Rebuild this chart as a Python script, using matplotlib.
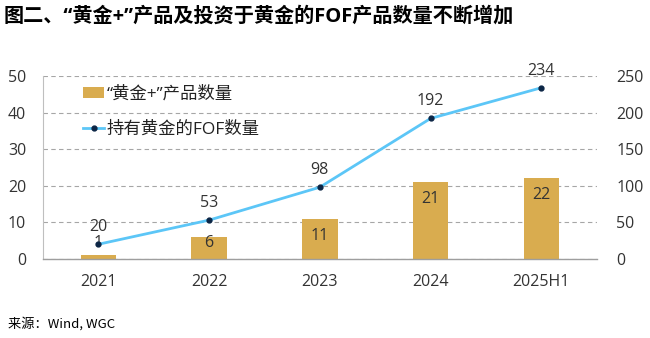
import matplotlib
matplotlib.use('Agg')
import matplotlib.pyplot as plt

plt.rcParams['font.family'] = ['Open Sans', 'Noto Sans CJK SC', 'DejaVu Sans']

# Data
categories = ['2021', '2022', '2023', '2024', '2025H1']
gold_plus_counts = [1, 6, 11, 21, 22]
fof_counts = [20, 53, 98, 192, 234]

bar_color = '#D9AC4F'
line_color = '#5CC6F7'
grid_color = '#A6A6A6'
text_color = '#333333'
mixed = ['Open Sans', 'Noto Sans CJK SC', 'DejaVu Sans']

fig = plt.figure(figsize=(6.5, 3.38), dpi=100)
ax = fig.add_axes([0.066, 0.234, 0.852, 0.541])
ax2 = ax.twinx()

x = list(range(len(categories)))

# Bars on left axis
ax.bar(x, gold_plus_counts, width=0.32, color=bar_color, zorder=2,
       label='“黄金+”产品数量')
for xi, v in zip(x, gold_plus_counts):
    ax.text(xi, max(v - 4.6, 4.4), str(v), ha='center', va='center',
            fontsize=11.5, color=text_color, zorder=5)

# Line on right axis
ax2.plot(x, fof_counts, color=line_color, lw=2, marker='o', markersize=3.5,
         markerfacecolor='#0B2545', markeredgecolor='#0B2545', zorder=4,
         label='持有黄金的FOF数量')
for xi, v in zip(x, fof_counts):
    ax2.annotate(str(v), (xi, v), xytext=(0, 17), textcoords='offset pixels',
                 ha='center', va='center', fontsize=11.5, color=text_color)

ax.set_xlim(-0.5, len(categories) - 0.5)
ax.set_ylim(0, 50)
ax2.set_ylim(0, 250)
ax.set_yticks(range(0, 51, 10))
ax2.set_yticks(range(0, 251, 50))
ax.set_xticks(x)
ax.set_xticklabels(categories)

ax.yaxis.grid(True, color=grid_color, linestyle=(0, (4, 3)), lw=0.8, zorder=0)
ax.set_axisbelow(True)

for a in (ax, ax2):
    for s in ('top', 'right'):
        a.spines[s].set_visible(False)
    a.spines['left'].set_visible(False)
    a.tick_params(length=0, labelsize=11.5, labelcolor=text_color)
ax.spines['left'].set_visible(True)
ax.spines['left'].set_color('#BFBFBF')
ax.spines['bottom'].set_color('#9E9E9E')
ax.spines['bottom'].set_linewidth(1)
ax2.spines['bottom'].set_visible(False)
ax.tick_params(axis='y', pad=12)
ax.tick_params(axis='x', pad=11)
ax2.tick_params(axis='y', pad=14)

# Legend
h1, l1 = ax.get_legend_handles_labels()
h2, l2 = ax2.get_legend_handles_labels()
leg = ax2.legend(h1 + h2, l1 + l2, loc='upper left', bbox_to_anchor=(0.045, 1.03),
                 frameon=False, handlelength=1.2, handleheight=0.6, handletextpad=0.15,
                 labelspacing=1.1, prop={'family': mixed, 'size': 12.5})
for t in leg.get_texts():
    t.set_color('#222222')

fig.text(0.005, 0.95, '图二、“黄金+”产品及投资于黄金的FOF产品数量不断增加',
         fontsize=14.5, fontweight='bold', ha='left', va='center',
         family=mixed, color='black')
fig.text(0.013, 0.041, '来源：Wind, WGC', fontsize=9.5, ha='left', va='center',
         family=['Noto Sans CJK SC', 'DejaVu Sans'], color='black')

plt.savefig('out.png', dpi=100, facecolor='white')
